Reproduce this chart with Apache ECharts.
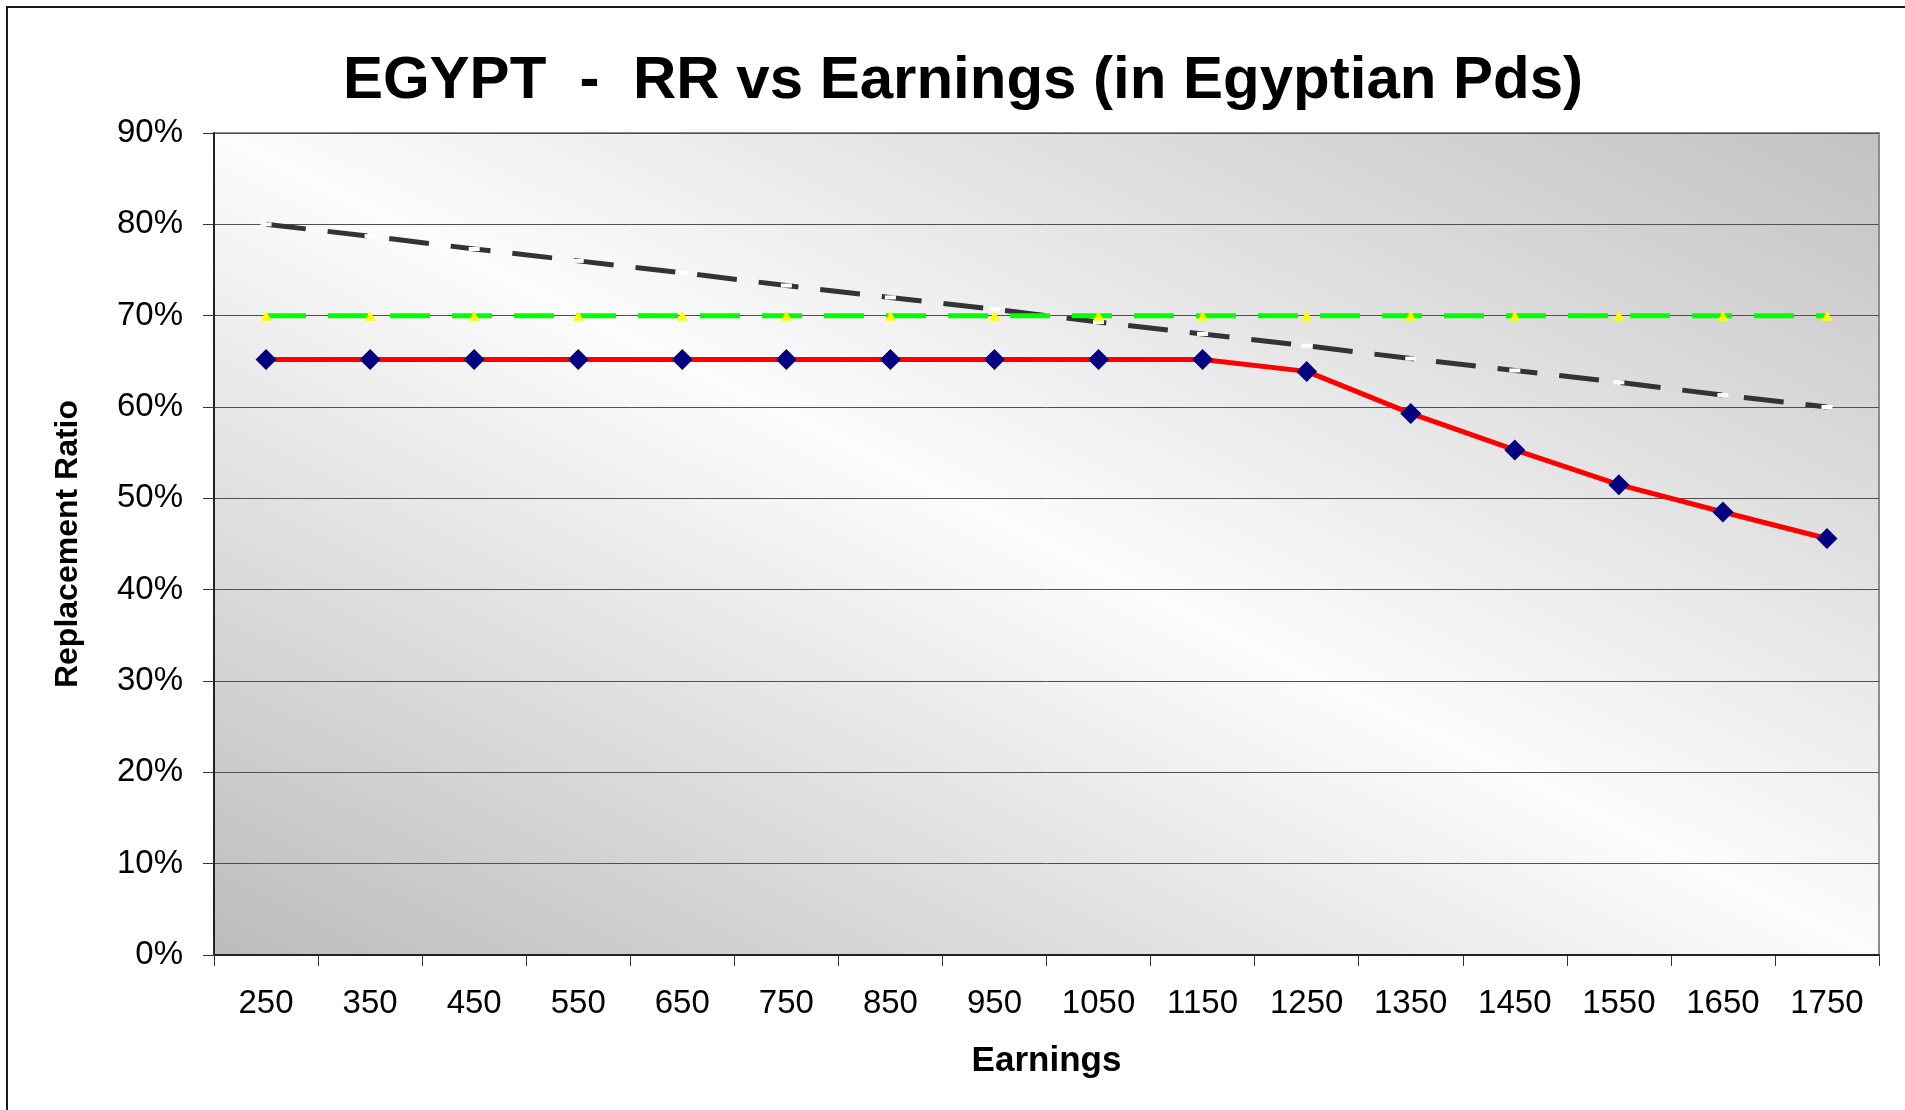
<!DOCTYPE html>
<html>
<head>
<meta charset="utf-8">
<script src="https://cdn.jsdelivr.net/npm/echarts@6/dist/echarts.min.js"></script>
<style>
  html, body { margin: 0; padding: 0; background: #fff; }
  #chart { width: 1905px; height: 1110px; }
</style>
</head>
<body>
<div id="chart"></div>
<script>
// earnings (Egyptian Pds)
const earnings = ["250", "350", "450", "550", "650", "750", "850", "950", "1050", "1150", "1250", "1350", "1450", "1550", "1650", "1750"];
// replacement ratio, %
const rrValues = [65.2, 65.2, 65.2, 65.2, 65.2, 65.2, 65.2, 65.2, 65.2, 65.2, 63.9, 59.3, 55.3, 51.5, 48.5, 45.6];
const flatLine = [70, 70, 70, 70, 70, 70, 70, 70, 70, 70, 70, 70, 70, 70, 70, 70];
const slopeLine = [80.0, 78.7, 77.3, 76.0, 74.7, 73.3, 72.0, 70.7, 69.3, 68.0, 66.7, 65.3, 64.0, 62.7, 61.3, 60.0];
const yTicks = { min: 0, max: 90, step: 10 };

const FONT = "'Liberation Sans', Arial, sans-serif";

const chart = echarts.init(document.getElementById("chart"));

// plot background: grey corners bottom-left / top-right, light along the other diagonal
const plotFill = {
  type: "linear",
  global: true,
  x: 720, y: 1205, x2: 1373, y2: -117,
  colorStops: [
    { offset: 0, color: "#bcbcbc" },
    { offset: 0.5, color: "#fcfcfc" },
    { offset: 1, color: "#c2c2c2" },
  ],
};

const option = {
  backgroundColor: "#ffffff",
  animation: false,
  title: {
    text: "EGYPT  -  RR vs Earnings (in Egyptian Pds)",
    left: 958,
    textAlign: "center",
    top: 46,
    textStyle: { fontFamily: FONT, fontSize: 60, fontWeight: "bold", color: "#000" },
  },
  graphic: [
    {
      type: "rect",
      shape: { x: 7, y: 7, width: 1910, height: 1120 },
      style: { fill: null, stroke: "#1a1a1a", lineWidth: 2 },
      silent: true,
    },
  ],
  grid: {
    left: 214,
    top: 133,
    right: 26,
    bottom: 155,
    show: true,
    borderColor: "#8c8c8c",
    borderWidth: 2,
    backgroundColor: plotFill,
  },
  xAxis: {
    type: "category",
    data: earnings,
    boundaryGap: true,
    name: "Earnings",
    nameLocation: "middle",
    nameGap: 89,
    nameTextStyle: { fontFamily: FONT, fontSize: 35, fontWeight: "bold", color: "#000" },
    axisLine: { lineStyle: { color: "#222", width: 2 } },
    axisTick: { show: true, length: 11, lineStyle: { color: "#333", width: 1 } },
    axisLabel: { fontFamily: FONT, fontSize: 33, color: "#000", margin: 32 },
    splitLine: { show: false },
  },
  yAxis: {
    type: "value",
    min: yTicks.min,
    max: yTicks.max,
    interval: yTicks.step,
    name: "Replacement Ratio",
    nameLocation: "middle",
    nameGap: 130,
    nameTextStyle: { fontFamily: FONT, fontSize: 32, fontWeight: "bold", color: "#000" },
    axisLine: { show: true, lineStyle: { color: "#222", width: 2 } },
    axisTick: { show: true, length: 11, lineStyle: { color: "#333", width: 1 } },
    axisLabel: { fontFamily: FONT, fontSize: 33, color: "#000", margin: 31, formatter: "{value}%" },
    splitLine: { show: true, lineStyle: { color: "#505050", width: 1 } },
  },
  series: [
    {
      name: "slope",
      type: "line",
      data: slopeLine,
      symbol: "rect",
      symbolSize: [11, 4],
      itemStyle: { color: "#ffffff" },
      lineStyle: { color: "#333333", width: 5, type: [40, 22] },
      z: 2,
    },
    {
      name: "flat",
      type: "line",
      data: flatLine,
      symbol: "triangle",
      symbolSize: [11, 10],
      itemStyle: { color: "#ffff00" },
      lineStyle: { color: "#00ff00", width: 5, type: [40, 22] },
      z: 3,
    },
    {
      name: "RR",
      type: "line",
      data: rrValues,
      symbol: "diamond",
      symbolSize: [21, 21],
      itemStyle: { color: "#000080" },
      lineStyle: { color: "#ff0000", width: 5 },
      z: 4,
    },
  ],
};

chart.setOption(option);
</script>
</body>
</html>
